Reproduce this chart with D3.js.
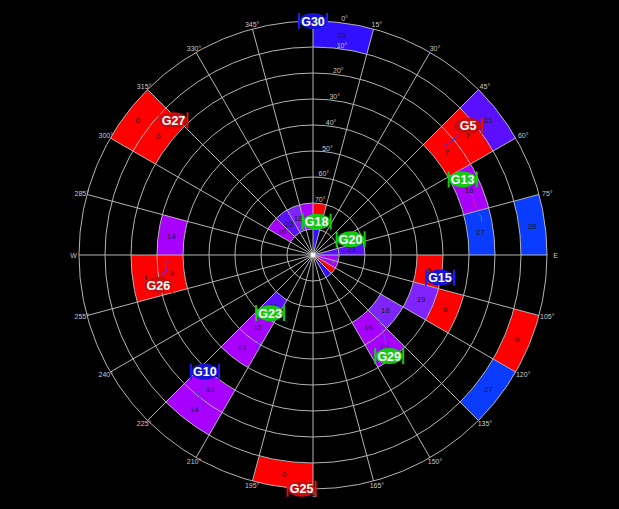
<!DOCTYPE html>
<html><head><meta charset="utf-8">
<script src="https://cdn.jsdelivr.net/npm/d3@7"></script>
<style>html,body{margin:0;padding:0;background:#000;}svg{display:block;}</style>
</head><body>
<script>
// ---- data ----
const cellAz  = [0,45,45,45,60,75,75,0,0,345,330,315,300,75,75,90,105,120,135,90,105,105,105,120,120,135,135,300,300,270,255,255,210,210,210,210,210,180];
const cellEl  = [0,0,10,20,20,20,0,70,80,70,70,70,70,70,80,80,80,80,80,40,40,30,0,0,50,50,40,0,10,30,20,30,60,50,40,20,10,0];
const cellVal = [23,21,7,7,16,27,28,9,23,16,18,22,16,21,21,16,16,7,23,9,19,8,0,27,18,16,15,0,0,14,4,3,21,12,13,13,14,0];
const cellLbl = ["23","21","7","7","16","27","28","","","","18","22","16","21","","","","","","9","19","8","0","27","18","16","15","0","0","14","4","3","21","12","13","13","14","0"];

const satNames = ["G30","G5","G13","G18","G20","G15","G29","G27","G26","G23","G10","G25"];
const satAz    = [0,50.2,63.2,6.3,67.4,100.1,143,314,259,216.4,222.8,182.8];
const satEl    = [0,12.4,25.5,77.1,74.3,40.4,41.3,15.4,29.4,62.2,28.8,0];
const satKind  = ["blue","red","green","green","green","blue","green","red","red","green","blue","red"];

const trackPts = [
  [[50.3,25],[50.6,21],[50.5,17]],
  [[68.5,25.1],[70,24.2],[71.5,25],[74,24.6]],
  [[75.8,24.5],[77,23.6],[78.8,23.9]],
  [[221.3,27],[219,24],[220,21],[217,19],[216.1,16.2]],
  [[214.4,57.3],[212,54],[213,51],[209.6,48]],
  [[133.5,55.5],[137,51],[139,48],[142.2,43.8]],
  [[268,34.3],[266,33],[264,33.5],[262.5,31.3]],
  [[114,82],[100,80.5],[90,79.6]]
];
const trackColor = ["#5020ff","#ff2020","#00c000","#6030ff","#6030ff","#7040ff","#6030ff","#00c000"];

const azTicks = [0,15,30,45,60,75,90,105,120,135,150,165,180,195,210,225,240,255,270,285,300,315,330,345];
const azTickLabels = ["0°","15°","30°","45°","60°","75°","E","105°","120°","135°","150°","165°","S","195°","210°","225°","240°","255°","W","285°","300°","315°","330°","345°"];
const elRings = [0,10,20,30,40,50,60,70,80];
const elLabels = ["10°","20°","30°","40°","50°","60°","70°"];
const elLabelVals = [10,20,30,40,50,60,70];

// ---- drawing ----
const W = 619, H = 509, cx = 313, cy = 255, R = 234;
const svg = d3.select("body").append("svg").attr("width", W).attr("height", H).style("background","#000");
const g = svg.append("g").attr("transform", `translate(${cx},${cy})`);
const r = d3.scaleLinear().domain([90, 0]).range([0, R]);
const rad = d => d * Math.PI / 180;
const pos = (az, el) => [r(el) * Math.sin(rad(az)), -r(el) * Math.cos(rad(az))];

const color = d3.scaleThreshold().domain([11, 17, 20, 23, 26])
  .range(["#ff0000", "#a800ff", "#8024ff", "#5a10ff", "#3010ff", "#0a3cff"]);

const arc = d3.arc();
const cells = cellAz.map((a, i) => ({az: a, el: cellEl[i], v: cellVal[i], t: cellLbl[i]}));

g.selectAll("path.cell").data(cells).enter().append("path")
  .attr("class", "cell")
  .attr("d", d => arc({innerRadius: r(d.el + 10), outerRadius: r(d.el), startAngle: rad(d.az), endAngle: rad(d.az + 15)}))
  .attr("fill", d => color(d.v));

// grid
g.selectAll("circle.ring").data(elRings).enter().append("circle")
  .attr("r", d => r(d)).attr("fill", "none").attr("stroke", "#b4b4b4").attr("stroke-width", 1);
g.selectAll("line.spoke").data(azTicks).enter().append("line")
  .attr("x1", 0).attr("y1", 0)
  .attr("x2", d => pos(d, 0)[0]).attr("y2", d => pos(d, 0)[1])
  .attr("stroke", "#b4b4b4").attr("stroke-width", 1);

// cell value labels
g.selectAll("text.cv").data(cells.filter(d => d.t !== "")).enter().append("text")
  .attr("x", d => pos(d.az + 7.5, d.el + 5)[0])
  .attr("y", d => pos(d.az + 7.5, d.el + 5)[1])
  .attr("text-anchor", "middle").attr("dominant-baseline", "central")
  .attr("font-family", "Liberation Sans, Arial, sans-serif").attr("font-size", 8)
  .attr("fill", "#1a1a1a").text(d => d.t);

// azimuth labels (0° label is shifted right of the G30 marker, as in the original)
g.selectAll("text.az").data(azTicks).enter().append("text")
  .attr("x", (d) => pos(d, 0)[0] + Math.sin(rad(d)) * 7 + 1.5 + (d === 0 ? 30 : 0))
  .attr("y", (d) => pos(d, 0)[1] - Math.cos(rad(d)) * 5 + (d === 0 ? 2 : 0))
  .attr("text-anchor", "middle").attr("dominant-baseline", "central")
  .attr("font-family", "Liberation Sans, Arial, sans-serif").attr("font-size", 7)
  .attr("fill", "#c8c8c8").text((d, i) => azTickLabels[i]);

// elevation labels
g.selectAll("text.el").data(elLabelVals).enter().append("text")
  .attr("x", d => pos(8, d)[0])
  .attr("y", d => pos(8, d)[1] - 4)
  .attr("text-anchor", "middle").attr("dominant-baseline", "central")
  .attr("font-family", "Liberation Sans, Arial, sans-serif").attr("font-size", 7)
  .attr("fill", "#c8c8c8").text((d, i) => elLabels[i]);

// tracks
const line = d3.line().x(p => pos(p[0], p[1])[0]).y(p => pos(p[0], p[1])[1]);
g.selectAll("path.track").data(trackPts).enter().append("path")
  .attr("d", line).attr("fill", "none")
  .attr("stroke", (d, i) => trackColor[i]).attr("stroke-width", 1);

// center dot
g.append("circle").attr("r", 2.2).attr("fill", "#fff");

// satellite labels
const kindFill = {blue: "#1414d2", red: "#cc0a0a", green: "#14c814"};
const kindBar = {blue: "#1e1ef0", red: "#e01010", green: "#10d010"};
const sats = satNames.map((n, i) => ({n, az: satAz[i], el: satEl[i], k: satKind[i]}));
const sg = g.selectAll("g.sat").data(sats).enter().append("g")
  .attr("transform", d => `translate(${pos(d.az, d.el)[0]},${pos(d.az, d.el)[1]})`);
sg.append("line").attr("x1", -14).attr("x2", -14).attr("y1", -8).attr("y2", 8)
  .attr("stroke", d => kindBar[d.k]).attr("stroke-width", 2);
sg.append("line").attr("x1", 14).attr("x2", 14).attr("y1", -8).attr("y2", 8)
  .attr("stroke", d => kindBar[d.k]).attr("stroke-width", 2);
sg.append("line").attr("x1", -14).attr("x2", 14).attr("y1", 0).attr("y2", 0)
  .attr("stroke", d => kindBar[d.k]).attr("stroke-width", 1);
sg.append("ellipse").attr("rx", 13.5).attr("ry", 8)
  .attr("fill", d => kindFill[d.k]);
sg.append("text").attr("text-anchor", "middle").attr("dominant-baseline", "central")
  .attr("y", 0.5)
  .attr("font-family", "Liberation Sans, Arial, sans-serif").attr("font-size", 12.5).attr("font-weight", "bold")
  .attr("fill", "#fff").text(d => d.n);
</script>
</body></html>
